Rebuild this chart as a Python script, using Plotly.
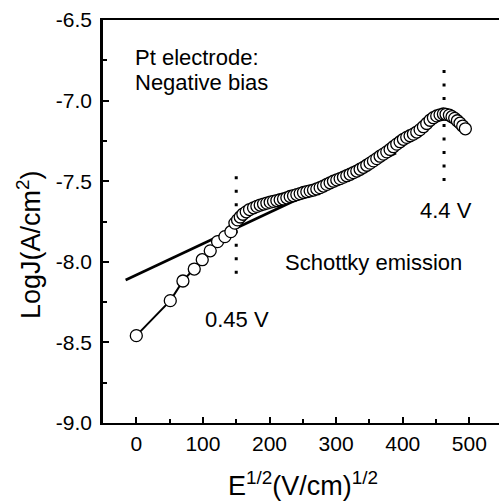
import plotly.graph_objects as go

# Measured data: E^1/2 (V/cm)^1/2 vs LogJ (A/cm^2)
e_sqrt = [0, 51, 70, 87, 99, 111, 122, 133, 142,
          148, 152, 156, 160, 165, 170, 176, 181, 186, 191, 196, 201, 206, 211,
          216, 221, 226, 231, 236, 241, 246, 251, 256, 261, 266, 271, 276, 281,
          286, 291, 296, 301, 306, 311, 316, 321, 326, 331, 336, 341, 346, 351,
          356, 361, 366, 371, 376, 381, 386, 391, 396, 401, 406, 411, 416, 421,
          426, 431, 436, 441, 446, 451, 456, 461, 465, 470, 474, 478, 482, 486,
          490, 494]
log_j = [-8.458, -8.241, -8.119, -8.045, -7.987, -7.932, -7.875, -7.844, -7.813,
         -7.760, -7.740, -7.722, -7.705, -7.690, -7.676, -7.665, -7.656, -7.648,
         -7.642, -7.636, -7.630, -7.625, -7.620, -7.615, -7.610, -7.603, -7.595,
         -7.590, -7.583, -7.577, -7.570, -7.565, -7.560, -7.555, -7.548, -7.540,
         -7.530, -7.520, -7.510, -7.500, -7.492, -7.484, -7.475, -7.466, -7.457,
         -7.447, -7.437, -7.426, -7.414, -7.401, -7.388, -7.374, -7.360, -7.345,
         -7.332, -7.318, -7.303, -7.286, -7.270, -7.255, -7.240, -7.228, -7.218,
         -7.208, -7.195, -7.180, -7.162, -7.142, -7.122, -7.106, -7.095, -7.088,
         -7.083, -7.085, -7.090, -7.100, -7.110, -7.125, -7.140, -7.158, -7.175]

# Schottky fit line endpoints
fit_x = [-16, 390]
fit_y = [-8.113, -7.325]

# Dotted markers of transition voltages
mark1_x = [150, 150]
mark1_y = [-7.47, -8.09]
mark2_x = [462, 462]
mark2_y = [-6.81, -7.50]

y_ticks = [-9.0, -8.5, -8.0, -7.5, -7.0, -6.5]
y_tick_text = ["-9.0", "-8.5", "-8.0", "-7.5", "-7.0", "-6.5"]
x_ticks = [0, 100, 200, 300, 400, 500]
x_tick_text = ["0", "100", "200", "300", "400", "500"]

FONT = "Liberation Sans, Arial, sans-serif"

fig = go.Figure()
fig.add_trace(go.Scatter(x=fit_x, y=fit_y, mode="lines",
                         line=dict(color="black", width=2.6), showlegend=False))
for mx, my in [(mark1_x, mark1_y), (mark2_x, mark2_y)]:
    fig.add_trace(go.Scatter(x=mx, y=my, mode="lines",
                             line=dict(color="black", width=3, dash="3px,10.5px"),
                             showlegend=False))
fig.add_trace(go.Scatter(x=e_sqrt, y=log_j, mode="lines+markers",
                         line=dict(color="black", width=2),
                         marker=dict(symbol="circle", size=12, color="white",
                                     line=dict(color="black", width=1.3)),
                         showlegend=False))

ann_font = dict(family=FONT, size=22, color="black")
annotations = [
    dict(text="Pt electrode:", x=0.0758, y=0.908, xanchor="left", yanchor="middle"),
    dict(text="Negative bias", x=0.0758, y=0.8437, xanchor="left", yanchor="middle"),
    dict(text="0.45 V", x=0.3396, y=0.2556, xanchor="center", yanchor="middle"),
    dict(text="4.4 V", x=0.8662, y=0.5285, xanchor="center", yanchor="middle"),
    dict(text="Schottky emission", x=0.6843, y=0.3983, xanchor="center", yanchor="middle"),
]
for a in annotations:
    a.update(xref="paper", yref="paper", showarrow=False, font=ann_font)

title_font = dict(family=FONT, size=27, color="black")
annotations.append(dict(text="LogJ(A/cm<sup>2</sup>)", x=-0.1869, y=0.444,
                        xref="paper", yref="paper", textangle=-90, showarrow=False,
                        xanchor="center", yanchor="middle", font=title_font))
annotations.append(dict(text="E<sup>1/2</sup>(V/cm)<sup>1/2</sup>", x=0.505, y=-0.152,
                        xref="paper", yref="paper", showarrow=False,
                        xanchor="center", yanchor="middle", font=title_font))

fig.update_layout(
    width=499, height=504,
    margin=dict(l=103, r=0, t=20, b=81),
    paper_bgcolor="white", plot_bgcolor="white",
    font=dict(family=FONT, color="black"),
    annotations=annotations,
    xaxis=dict(range=[-50, 544.5], showgrid=False, zeroline=False,
               showline=True, linecolor="black", linewidth=2, mirror=True,
               ticks="inside", ticklen=6, tickwidth=2, tickcolor="black",
               tickvals=x_ticks, ticktext=x_tick_text,
               tickfont=dict(family=FONT, size=21, color="black"),
               ticklabelstandoff=1,
               minor=dict(ticks="inside", ticklen=4, tickwidth=2, tickcolor="black",
                          dtick=50, tick0=0, showgrid=False)),
    yaxis=dict(range=[-9.0, -6.5], showgrid=False, zeroline=False,
               showline=True, linecolor="black", linewidth=2.5, mirror=False,
               ticks="inside", ticklen=6, tickwidth=2, tickcolor="black",
               tickvals=y_ticks, ticktext=y_tick_text,
               tickfont=dict(family=FONT, size=21, color="black"),
               ticklabelstandoff=4,
               minor=dict(ticks="inside", ticklen=4, tickwidth=2, tickcolor="black",
                          dtick=0.25, tick0=-9.0, showgrid=False)),
)

fig.write_html("out.html")
